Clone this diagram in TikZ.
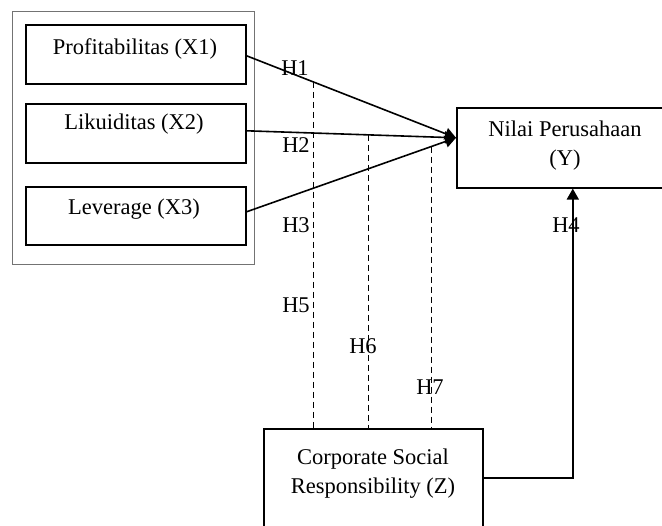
\documentclass[tikz,border=0pt]{standalone}
\usepackage{fontspec}
\setmainfont{Liberation Serif}
\usetikzlibrary{arrows.meta}
\begin{document}
\begin{tikzpicture}[x=1pt,y=-1pt,
  box/.style={draw, line width=1.6pt, inner sep=0pt, anchor=north west},
  outerbox/.style={draw=black!55, line width=0.9pt, inner sep=0pt, anchor=north west, minimum width=242pt, minimum height=253pt},
  txt/.style={font=\fontsize{22.5}{28}\selectfont, inner sep=0pt, anchor=base},
  conn/.style={line width=1.6pt},
  arr/.style={conn, -{Triangle[length=11pt,width=12pt]}},
  hyp/.style={dash pattern=on 6pt off 4pt, line width=0.8pt},
]
\useasboundingbox (0,0) rectangle (662,526);
\clip (0,0) rectangle (662,526);
% group frame
\node[outerbox] (grp) at (12,11) {};
% boxes
\node[box, minimum width=220pt, minimum height=59pt] (x1) at (25,24) {};
\node[box, minimum width=220pt, minimum height=59pt] (x2) at (25,103) {};
\node[box, minimum width=220pt, minimum height=58pt] (x3) at (25,186) {};
\node[box, minimum width=232pt, minimum height=80pt] (ybox) at (456,107) {};
\node[box, minimum width=219pt, minimum height=130pt] (csr) at (263,428) {};
% texts
\node[txt] (tx1) at (135,55) {Profitabilitas (X1)};
\node[txt] (tx2) at (134,130) {Likuiditas (X2)};
\node[txt] (tx3) at (134,215) {Leverage (X3)};
\node[txt] (ty1) at (565,137) {Nilai Perusahaan};
\node[txt] (ty2) at (565,166) {(Y)};
\node[txt] (tc1) at (373,465) {Corporate Social};
\node[txt] (tc2) at (373,494) {Responsibility (Z)};
% connectors
\coordinate (tip) at ([yshift=10pt]ybox.west);
\draw[arr] ([yshift=-1.5pt]x1.east) -- coordinate[pos=0.3175] (d1) (tip);
\draw[arr] ([yshift=2.5pt]x2.east) -- coordinate[pos=0.583] (d2) (tip);
\draw[arr] ([yshift=4pt]x3.east) -- coordinate[pos=0.8815] (d3) (tip);
\draw[hyp] (d1) -- (d1 |- csr.north);
\draw[hyp] (d2) -- (d2 |- csr.north);
\draw[hyp] (d3) -- (d3 |- csr.north);
\coordinate (cz) at ([yshift=-50pt]csr.north east);
\draw[arr] (cz) -| (ybox.south);
% hypothesis labels
\node[txt] (h1) at (295,76) {H1};
\node[txt] (h2) at (296,153) {H2};
\node[txt] (h3) at (296,233) {H3};
\node[txt] (h4) at (566,233) {H4};
\node[txt] (h5) at (296,313) {H5};
\node[txt] (h6) at (363,354) {H6};
\node[txt] (h7) at (430,395) {H7};
\end{tikzpicture}
\end{document}
